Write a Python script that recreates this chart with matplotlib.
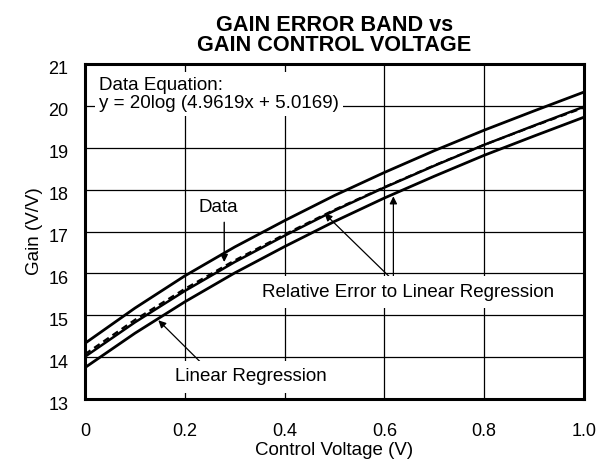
import matplotlib
matplotlib.use("Agg")
import matplotlib.pyplot as plt
from matplotlib.transforms import ScaledTranslation

plt.rcParams['font.family'] = ['Liberation Sans', 'DejaVu Sans']

# valores
control_v = [0.0, 0.1, 0.2, 0.3, 0.4, 0.5, 0.6, 0.7, 0.8, 0.9, 1.0]
gain_regression = [14.01, 14.83, 15.58, 16.27, 16.90, 17.50, 18.05, 18.57, 19.07, 19.53, 19.98]
gain_data = [14.07, 14.89, 15.63, 16.31, 16.93, 17.52, 18.06, 18.58, 19.07, 19.52, 19.96]
gain_upper = [14.33, 15.17, 15.94, 16.63, 17.26, 17.86, 18.41, 18.93, 19.42, 19.88, 20.33]
gain_lower = [13.75, 14.57, 15.32, 16.01, 16.64, 17.24, 17.80, 18.32, 18.82, 19.28, 19.73]

x_ticks = [0, 0.2, 0.4, 0.6, 0.8, 1.0]
x_tick_labels = ["0", "0.2", "0.4", "0.6", "0.8", "1.0"]
y_ticks = [13, 14, 15, 16, 17, 18, 19, 20, 21]

fig = plt.figure(figsize=(5.98, 4.63), dpi=100)
ax = fig.add_axes([85 / 598, 1 - 399 / 463, 499 / 598, 335 / 463])

# curvas
ax.plot(control_v, gain_upper, color='black', lw=2.0)
ax.plot(control_v, gain_lower, color='black', lw=2.0)
ax.plot(control_v, gain_regression, color='black', lw=1.8)
ax.plot(control_v, gain_data, color='black', lw=1.6, ls=(0, (3, 2)))

ax.set_xlim(0, 1.0)
ax.set_ylim(13, 21)
ax.set_xticks(x_ticks)
ax.set_xticklabels(x_tick_labels)
ax.set_yticks(y_ticks)
ax.grid(True, color='black', lw=0.9)
ax.tick_params(axis='x', length=0, labelsize=13, pad=17)
ax.tick_params(axis='y', length=0, labelsize=13, pad=12)
for s in ax.spines.values():
    s.set_linewidth(2.2)

# rotulos do eixo y um pouco abaixo da linha
for lab in ax.get_yticklabels():
    lab.set_transform(lab.get_transform() + ScaledTranslation(0, -0.04, fig.dpi_scale_trans))

ax.set_xlabel("Control Voltage (V)", fontsize=13.5, labelpad=2)
ax.set_ylabel("Gain (V/V)", fontsize=13.5, labelpad=4)
ax.set_title("GAIN ERROR BAND vs\nGAIN CONTROL VOLTAGE", fontsize=15.6,
             fontweight='bold', linespacing=0.95, pad=9)

# textos e setas
ax.text(0.028, 20.7, "Data Equation:\ny = 20log (4.9619x + 5.0169)", fontsize=13.5,
        va='top', ha='left', linespacing=1.1, zorder=5,
        bbox=dict(facecolor='white', edgecolor='none', pad=3))

ax.text(0.268, 17.58, "Data", fontsize=13.5, ha='center', va='center', zorder=5)
ax.annotate("", xy=(0.279, 16.27), xytext=(0.279, 17.22),
            arrowprops=dict(arrowstyle='-|>', color='black', lw=1.0,
                            mutation_scale=11, shrinkA=0, shrinkB=0))

ax.text(0.647, 15.55, "Relative Error to Linear Regression", fontsize=13.5,
        ha='center', va='center', zorder=5,
        bbox=dict(facecolor='white', edgecolor='none', pad=5.5))
ax.annotate("", xy=(0.48, 17.43), xytext=(0.61, 15.92),
            arrowprops=dict(arrowstyle='-|>', color='black', lw=0.9,
                            mutation_scale=11, shrinkA=0, shrinkB=0))
ax.annotate("", xy=(0.618, 17.84), xytext=(0.618, 15.92),
            arrowprops=dict(arrowstyle='-|>', color='black', lw=0.9,
                            mutation_scale=11, shrinkA=0, shrinkB=0))

ax.text(0.333, 13.53, "Linear Regression", fontsize=13.5, ha='center', va='center',
        zorder=5, bbox=dict(facecolor='white', edgecolor='none', pad=5.5))
ax.annotate("", xy=(0.147, 14.88), xytext=(0.24, 13.78),
            arrowprops=dict(arrowstyle='-|>', color='black', lw=0.9,
                            mutation_scale=11, shrinkA=0, shrinkB=0))

fig.savefig("out.png", dpi=100)
